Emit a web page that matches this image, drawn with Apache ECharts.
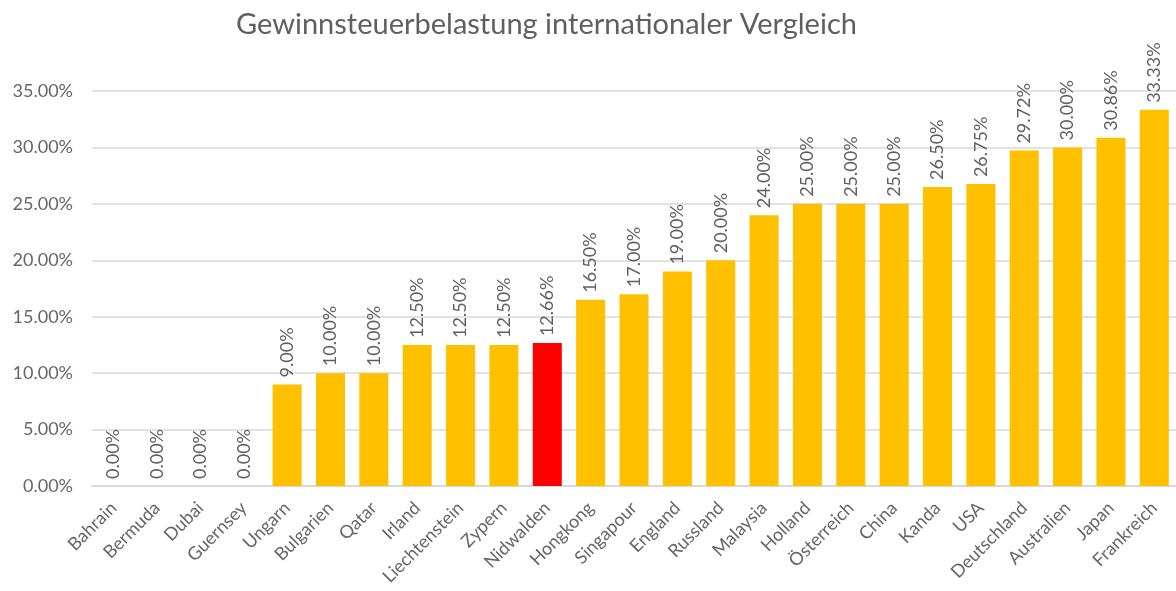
<!DOCTYPE html>
<html><head><meta charset="utf-8">
<script src="https://cdn.jsdelivr.net/npm/echarts@6/dist/echarts.min.js"></script>
<style>html,body{margin:0;padding:0;background:#fff}#c{width:1176px;height:591px}</style>
</head><body><div id="c"></div>
<script>
const categories = ['Bahrain','Bermuda','Dubai','Guernsey','Ungarn','Bulgarien','Qatar','Irland','Liechtenstein','Zypern','Nidwalden','Hongkong','Singapour','England','Russland','Malaysia','Holland','Österreich','China','Kanda','USA','Deutschland','Australien','Japan','Frankreich'];
const values = [0,0,0,0,9,10,10,12.5,12.5,12.5,12.66,16.5,17,19,20,24,25,25,25,26.5,26.75,29.72,30,30.86,33.33];
const highlight = 'Nidwalden';
const yTicks = [0,5,10,15,20,25,30,35];

const font = 'Lato, "Open Sans", sans-serif';
const chart = echarts.init(document.getElementById('c'));
chart.setOption({
  animation:false,
  title:{text:'Gewinnsteuerbelastung internationaler Vergleich', left:231, top:5,
    textStyle:{fontFamily:font, fontSize:29, fontWeight:'normal', color:'#5f5f5f'}},
  grid:{left:92, right:-6, top:91, bottom:105, containLabel:false},
  xAxis:{type:'category', data:categories,
    axisLine:{lineStyle:{color:'#D9D9D9', width:2}}, axisTick:{show:false},
    axisLabel:{rotate:45, interval:0, fontFamily:font, fontSize:18, color:'#666666', margin:19}},
  yAxis:{type:'value', min:yTicks[0], max:yTicks[yTicks.length-1], interval:5,
    axisLine:{show:false}, axisTick:{show:false},
    splitLine:{lineStyle:{color:'#D9D9D9', width:1.5}},
    axisLabel:{fontFamily:font, fontSize:18, color:'#666666', margin:19,
      formatter:v=>v.toFixed(2)+'%'}},
  series:[{type:'bar', barCategoryGap:'33%',
    data:values.map((v,i)=>({value:v, itemStyle:{color: categories[i]===highlight?'#FF0000':'#FFC000'}})),
    label:{show:true, position:'top', rotate:90, align:'left', verticalAlign:'middle', distance:7,
      fontFamily:font, fontSize:18, color:'#5f5f5f', formatter:p=>p.value.toFixed(2)+'%'}}]
});
</script></body></html>
